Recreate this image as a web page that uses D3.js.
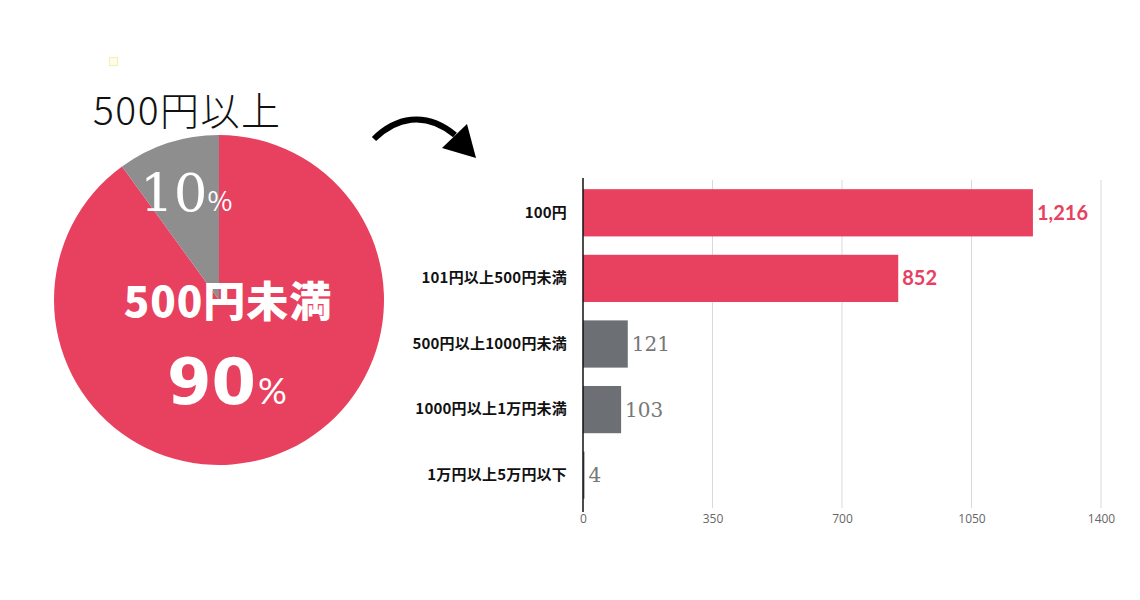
<!DOCTYPE html>
<html>
<head>
<meta charset="utf-8">
<script src="https://cdn.jsdelivr.net/npm/d3@7"></script>
<style>
html,body{margin:0;padding:0;background:#fff;}
svg{display:block;}
</style>
</head>
<body>
<svg id="chart" width="1140" height="600"></svg>
<script>
// Pie data
const pieLabels = ["500円未満", "500円以上"];
const pieValues = [90, 10];
// Bar data
const categories = ["100円", "101円以上500円未満", "500円以上1000円未満", "1000円以上1万円未満", "1万円以上5万円以下"];
const counts = [1216, 852, 121, 103, 4];
const barHighlight = [true, true, false, false, false];
const xTicks = [0, 350, 700, 1050, 1400];

const PINK = "#e8405f";
const PIE_GRAY = "#8e8e8e";
const BAR_GRAY = "#6c6f74";
const JP = "'Noto Sans CJK JP','Noto Sans',sans-serif";

const svg = d3.select("#chart");

// tiny icon
svg.append("rect").attr("x", 109.5).attr("y", 57.5).attr("width", 8).attr("height", 8)
  .attr("fill", "#fffde8").attr("stroke", "#f3efb0").attr("stroke-width", 1);

// ---- Pie ----
const cx = 219, cy = 300, R = 165;
const pie = d3.pie().sort(null).startAngle(0).endAngle(2 * Math.PI);
const arcs = pie(pieValues);
const arc = d3.arc().innerRadius(0).outerRadius(R);
const pg = svg.append("g").attr("transform", `translate(${cx},${cy})`);
pg.selectAll("path").data(arcs).enter().append("path")
  .attr("d", arc)
  .attr("fill", (d, i) => i === 0 ? PINK : PIE_GRAY);

// pie texts
svg.append("text").attr("x", 93).attr("y", 125)
  .attr("font-family", JP).attr("font-weight", 300).attr("font-size", 39)
  .attr("letter-spacing", 1.5)
  .attr("fill", "#111").text(pieLabels[1]);

const t10 = svg.append("text").attr("x", 140).attr("y", 211)
  .attr("font-family", "'DejaVu Serif','Liberation Serif',serif").attr("fill", "#fff");
t10.append("tspan").attr("font-size", 53).text(pieValues[1]);
t10.append("tspan").attr("font-size", 27).attr("font-family", JP).text("%");

svg.append("text").attr("x", 228).attr("y", 317).attr("text-anchor", "middle")
  .attr("font-family", JP).attr("font-weight", 900).attr("font-size", 42)
  .attr("letter-spacing", 1)
  .attr("fill", "#fff").text(pieLabels[0]);

const t90 = svg.append("text").attr("x", 227).attr("y", 404).attr("text-anchor", "middle")
  .attr("font-family", "'DejaVu Sans','Noto Sans',sans-serif").attr("font-weight", 700).attr("fill", "#fff");
t90.append("tspan").attr("font-size", 64).text(pieValues[0]);
t90.append("tspan").attr("font-size", 36).attr("font-weight", 400)
  .attr("font-family", "'Lato','Noto Sans',sans-serif").attr("dx", 2).text("%");

// ---- Arrow ----
svg.append("path")
  .attr("d", "M374,139 C395,118 425,110 455,135")
  .attr("fill", "none").attr("stroke", "#000").attr("stroke-width", 6);
svg.append("path")
  .attr("d", "M442,148 L467,124 L476,158 Z").attr("fill", "#000");

// ---- Bar chart ----
const x = d3.scaleLinear().domain([0, 1400]).range([583, 1101]);
const y = d3.scaleBand().domain(categories).range([180, 508]).paddingInner(0.28).paddingOuter(0.14);

// gridlines
svg.append("g").selectAll("line").data(xTicks.slice(1)).enter().append("line")
  .attr("x1", d => x(d)).attr("x2", d => x(d))
  .attr("y1", 180).attr("y2", 508)
  .attr("stroke", "#d9d9d9").attr("stroke-width", 1);

// x axis tick labels
const xAxis = d3.axisBottom(x).tickValues(xTicks).tickFormat(d3.format("d")).tickSize(0).tickPadding(8);
const gx = svg.append("g").attr("transform", "translate(0,506)").call(xAxis);
gx.select(".domain").remove();
gx.selectAll("text").attr("font-family", "'Open Sans','Noto Sans',sans-serif")
  .attr("font-size", 12).attr("fill", "#666");

// bars
svg.append("g").selectAll("rect").data(categories).enter().append("rect")
  .attr("x", x(0)).attr("y", d => y(d))
  .attr("width", (d, i) => Math.max(1.5, x(counts[i]) - x(0)))
  .attr("height", y.bandwidth())
  .attr("fill", (d, i) => barHighlight[i] ? PINK : BAR_GRAY);

// y axis
const yAxis = d3.axisLeft(y).tickSize(0).tickPadding(16);
const gy = svg.append("g").attr("transform", `translate(${x(0)},0)`).call(yAxis);
gy.select(".domain").remove();
gy.selectAll("text").attr("font-family", JP).attr("font-weight", 700)
  .attr("font-size", 15).attr("letter-spacing", 0.2).attr("fill", "#111");
svg.append("line").attr("x1", x(0)).attr("x2", x(0)).attr("y1", 178).attr("y2", 512)
  .attr("stroke", "#111").attr("stroke-width", 1.5);

// value labels
svg.append("g").selectAll("text").data(categories).enter().append("text")
  .attr("x", (d, i) => x(counts[i]) + 4)
  .attr("y", d => y(d) + y.bandwidth() / 2 + 7)
  .attr("font-family", (d, i) => barHighlight[i] ? "'Lato','Noto Sans',sans-serif" : "'DejaVu Serif','Liberation Serif',serif")
  .attr("font-weight", (d, i) => barHighlight[i] ? 700 : 400)
  .attr("font-size", 20)
  .attr("fill", (d, i) => barHighlight[i] ? PINK : "#777")
  .text((d, i) => d3.format(",")(counts[i]));
</script>
</body>
</html>
